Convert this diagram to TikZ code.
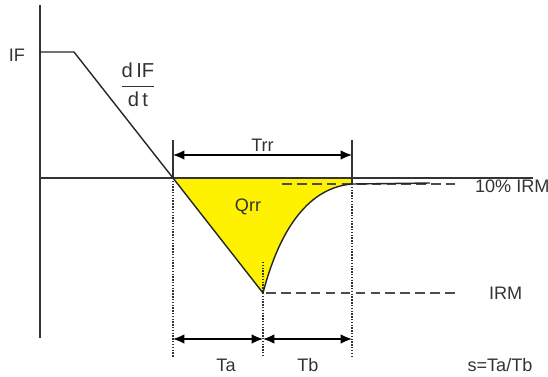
\documentclass[tikz,border=0pt]{standalone}
\usepackage{amsmath}
\usepackage{fontspec}
\setmainfont{Liberation Sans}
\usetikzlibrary{arrows.meta,positioning,calc}

\begin{document}
\begin{tikzpicture}[
    axis/.style={line width=0.8pt, black!80},
    curve/.style={line width=0.8pt, black!85, line join=round},
    guide/.style={line width=0.8pt, black!80, dash pattern=on 0.8pt off 0.8pt},
    level/.style={line width=0.75pt, black!70, dash pattern=on 5.5pt off 3pt},
    dim/.style={line width=0.8pt, {Latex[length=6.5pt,width=5.5pt]}-{Latex[length=6.5pt,width=5.5pt]}},
    lbl/.style={font=\fontsize{10.3}{12}\selectfont, text=black!80, inner sep=1pt}
  ]
  \useasboundingbox (-0.8,-3.96) rectangle (10.16,3.56);
  % points of the current
  \coordinate (ytop) at (0,3.46);
  \coordinate (ybot) at (0,-3.2);
  \coordinate (origin) at (0,0);
  \coordinate (xend) at (9.86,0);
  \coordinate (ifstart) at (0,2.52);
  \coordinate (ifend) at (0.68,2.52);
  \coordinate (zero) at (2.66,0);
  \coordinate (peak) at (4.46,-2.3);
  \coordinate (settle) at (6.24,-0.12);
  \coordinate (tail) at (7.8,-0.1);
  % charge area
  \fill[yellow] (zero) -- (peak) .. controls (4.76,-1.15) and (5.3,-0.2) .. (settle) -- (6.24,0) -- cycle;
  % axes
  \draw[axis] (ytop) -- (ybot);
  \draw[axis] (origin) -- (xend);
  % guides
  \coordinate (zerotop) at (2.66,0.76);
  \coordinate (zerobot) at (2.66,-3.58);
  \coordinate (endtop) at (6.24,0.76);
  \coordinate (endbot) at (6.24,-3.58);
  \coordinate (peaktop) at (4.46,-1.68);
  \coordinate (peakbot) at (4.46,-3.58);
  \draw[axis] (zerotop) -- (zero);
  \draw[guide] (zero) -- (zerobot);
  \draw[axis] (endtop) -- (settle);
  \draw[guide] (settle) -- (endbot);
  \draw[guide] (peaktop) -- (peakbot);
  % levels
  \coordinate (tenL) at (4.84,-0.12);
  \coordinate (tenR) at (8.3,-0.12);
  \coordinate (irmL) at (4.52,-2.3);
  \coordinate (irmR) at (8.36,-2.3);
  \draw[level] (tenL) -- (tenR);
  \draw[level] (irmL) -- (irmR);
  % current
  \draw[curve] (ifstart) -- (ifend) -- (zero) -- (peak)
    .. controls (4.76,-1.15) and (5.3,-0.2) .. (settle) -- (tail);
  % times
  \coordinate (trrL) at (2.66,0.46);
  \coordinate (trrR) at (6.24,0.46);
  \coordinate (taL) at (2.66,-3.22);
  \coordinate (taR) at (4.46,-3.22);
  \coordinate (tbR) at (6.24,-3.22);
  \draw[dim] (trrL) -- (trrR);
  \draw[dim] (taL) -- (taR);
  \draw[dim] (taR) -- (tbR);
  % labels
  \node[lbl] (iflabel) at (-0.46,2.46) {IF};
  \node[lbl, font=\fontsize{11.5}{13}\selectfont] (rate) at (1.96,1.86) {$\dfrac{\text{d\,IF}}{\text{d\,t}}$};
  \node[lbl, above=1pt of $(trrL)!0.5!(trrR)$] (trr) {Trr};
  \node[lbl] (qrr) at (4.16,-0.58) {Qrr};
  \node[lbl, anchor=west] (ten) at (8.66,-0.16) {10\% IRM};
  \node[lbl, anchor=west] (irm) at (8.94,-2.3) {IRM};
  \node[lbl] (ta) at (3.72,-3.74) {Ta};
  \node[lbl] (tb) at (5.36,-3.74) {Tb};
  \node[lbl] (ratio) at (9.2,-3.74) {s=Ta/Tb};
\end{tikzpicture}
\end{document}
